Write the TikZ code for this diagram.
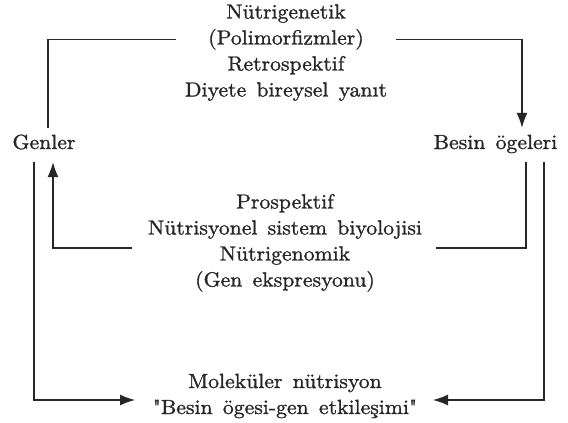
\documentclass[tikz,border=0pt]{standalone}
\usetikzlibrary{arrows.meta}
\font\lmbig="[lmroman10-regular]:+tlig;extend=1.06;embolden=1.2" at 20.5pt
\def\txtfont{\lmbig\spaceskip=0.5em\relax}

\tikzset{
    txt/.style={font=\txtfont,text=black!85,text height=15pt,text depth=5pt,inner sep=0pt},
    term/.style={txt,text depth=7pt,inner xsep=0pt,inner ysep=6pt},
    link/.style={line width=1.2pt,black!85}
}

\begin{document}
\begin{tikzpicture}[x=1pt,y=-1pt,node distance=26pt,>={Latex[length=15pt,width=11pt]}]
    \useasboundingbox (0,0) rectangle (568,423);
    % top block
    \node[txt] (nutgen) at (286,13.5) {Nütrigenetik};
    \node[txt,below of=nutgen,inner xsep=32pt] (polim) {(Polimorfizmler)};
    \node[txt,below of=polim] (retro) {Retrospektif};
    \node[txt,below of=retro] (diyet) {Diyete bireysel yanıt};
    % middle block
    \node[txt] (prosp) at (285,203.5) {Prospektif};
    \node[txt,below of=prosp] (sistem) {Nütrisyonel sistem biyolojisi};
    \node[txt,below of=sistem] (genom) {Nütrigenomik};
    \node[txt,below of=genom] (ekspr) {(Gen ekspresyonu)};
    % bottom block
    \node[txt] (molek) at (285,383) {Moleküler nütrisyon};
    \node[txt,below of=molek] (etki) {"Besin ögesi-gen etkileşimi"};
    % genes and nutrients
    \node[term] (genler) at (44,145) {Genler};
    \node[term] (besin) at (495.5,145) {Besin ögeleri};
    \coordinate (ml) at (132,248);
    \coordinate (mr) at (436,248);
    \coordinate (bl) at (135,400);
    \coordinate (br) at (433,400);
    \draw[link] ([xshift=4pt]genler.north) |- (polim.west);
    \draw[link,->] (polim.east) -| ([xshift=26.5pt]besin.north);
    \draw[link] ([xshift=30.5pt]besin.south) |- (mr);
    \draw[link,->] (ml) -| ([xshift=9pt]genler.south);
    \draw[link,->] ([xshift=-10pt]genler.south) |- (bl);
    \draw[link,->] ([xshift=48.5pt]besin.south) |- (br);
\end{tikzpicture}
\end{document}
